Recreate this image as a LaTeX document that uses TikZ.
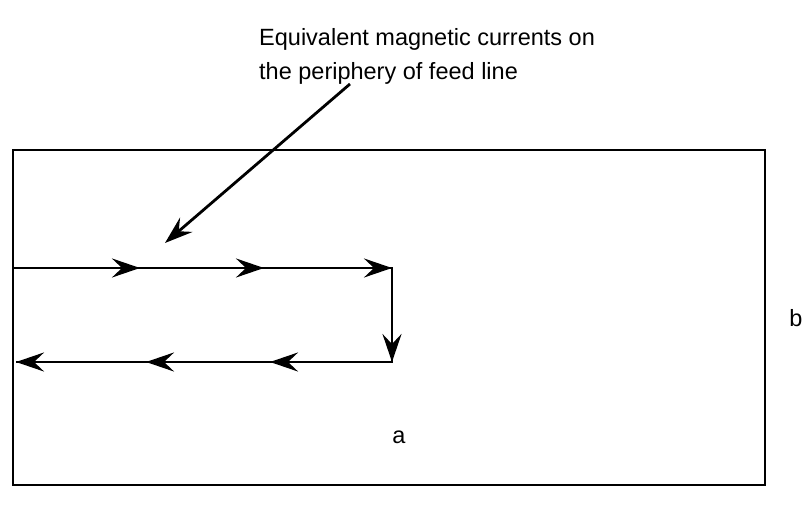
\documentclass[tikz,border=0pt]{standalone}
\usepackage{fontspec}
\setmainfont{Liberation Sans}
\usetikzlibrary{arrows.meta,decorations.markings}
\begin{document}
\begin{tikzpicture}[x=1pt,y=-1pt,
  wire/.style={line width=2.8pt},
  barb/.style={-{Stealth[length=28pt,width=19pt,inset=10pt]}},
  lbl/.style={font=\fontsize{23.5}{34}\selectfont, inner sep=0pt}]
\useasboundingbox (0,0) rectangle (809,510);
\draw[line width=2.4pt] (13,150) rectangle (765,485);
% feed line corners
\coordinate (s) at (14,268);
\coordinate (c1) at (392,268);
\coordinate (c2) at (392,362);
\coordinate (e) at (16,362);
\coordinate (m1) at (140,268);
\coordinate (m2) at (264,268);
\coordinate (m3) at (270,362);
\coordinate (m4) at (146,362);
\draw[wire] (s) -- (c1) -- (c2) -- (e);
\draw[wire,barb] (s) -- (m1);
\draw[wire,barb] (m1) -- (m2);
\draw[wire,barb] (m2) -- (c1);
\draw[wire,barb] (c1) -- (c2);
\draw[wire,barb] (c2) -- (m3);
\draw[wire,barb] (m3) -- (m4);
\draw[wire,barb] (m4) -- (e);
% annotation
\node[lbl, align=left, anchor=north west] (txt) at (259,28) {Equivalent magnetic currents on\\the periphery of feed line};
\coordinate (lstart) at (350,84);
\coordinate (ltip) at (165,243);
\draw[wire,barb] (lstart) -- (ltip);
\node[lbl] (b) at (796,318) {b};
\node[lbl] (a) at (399,437) {a};
\end{tikzpicture}
\end{document}
